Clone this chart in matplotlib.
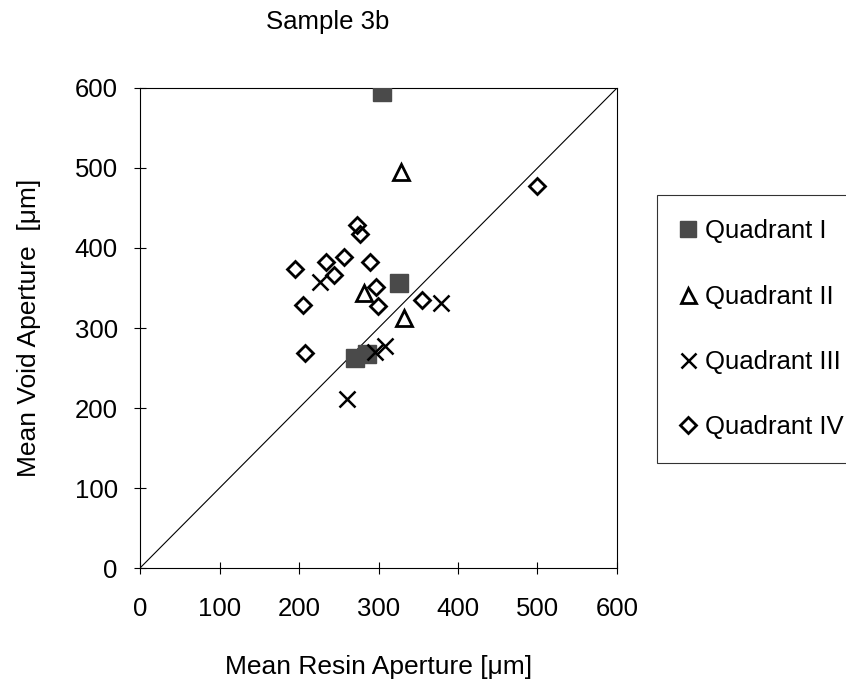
import matplotlib
matplotlib.use("Agg")
from matplotlib import pyplot as plt

plt.rcParams['font.family'] = ['Liberation Sans', 'DejaVu Sans']

# Quadrant I (filled squares)
q1_x = [305, 326, 270, 285]
q1_y = [595, 356, 263, 268]
# Quadrant II (triangles)
q2_x = [328, 282, 332]
q2_y = [495, 344, 312]
# Quadrant III (crosses)
q3_x = [226, 379, 308, 296, 260]
q3_y = [357, 331, 278, 270, 211]
# Quadrant IV (diamonds)
q4_x = [273, 277, 195, 234, 256, 289, 244, 297, 205, 299, 355, 208, 499]
q4_y = [429, 417, 374, 383, 389, 383, 366, 351, 329, 327, 335, 269, 478]

labels = ['Quadrant I', 'Quadrant II', 'Quadrant III', 'Quadrant IV']
ticks = [0, 100, 200, 300, 400, 500, 600]

FS = 18.5

fig = plt.figure(figsize=(8.46, 6.81), dpi=100)
ax = fig.add_axes([0.1655, 0.1659, 0.5638, 0.7049])

ax.plot([0, 600], [0, 600], color='black', lw=0.8, zorder=1)

h1, = ax.plot(q1_x, q1_y, ls='none', marker='s', ms=13, color='#4a4a4a',
              mec='#4a4a4a', label=labels[0], zorder=3)
h2, = ax.plot(q2_x, q2_y, ls='none', marker='^', ms=12, mfc='none',
              mec='black', mew=2, label=labels[1], zorder=3)
h3, = ax.plot(q3_x, q3_y, ls='none', marker='x', ms=12, color='black',
              mew=1.8, label=labels[2], zorder=3)
h4, = ax.plot(q4_x, q4_y, ls='none', marker='D', ms=8.5, mfc='none',
              mec='black', mew=2, label=labels[3], zorder=3)

ax.set_xlim(0, 600)
ax.set_ylim(0, 600)
ax.set_xticks(ticks)
ax.set_yticks(ticks)
ax.tick_params(labelsize=FS, direction='inout', length=8, width=0.8)
ax.tick_params(axis='x', pad=17)
ax.tick_params(axis='y', pad=12)
for s in ax.spines.values():
    s.set_linewidth(0.8)

ax.set_xlabel('Mean Resin Aperture [\u03bcm]', fontsize=19, labelpad=24)
ax.set_ylabel('Mean Void Aperture  [\u03bcm]', fontsize=19, labelpad=24)
fig.text(0.387, 0.968, 'Sample 3b', fontsize=FS, ha='center', va='center')

leg = fig.legend(handles=[h1, h2, h3, h4], labels=labels,
                 loc='upper left', bbox_to_anchor=(657 / 846, 1 - 195 / 681),
                 fontsize=FS, frameon=True, fancybox=False, markerscale=0.9,
                 handlelength=0.5, handletextpad=0.4, labelspacing=1.6,
                 borderpad=0.95, borderaxespad=0)
leg.get_frame().set_edgecolor('black')
leg.get_frame().set_linewidth(0.8)

plt.savefig('out.png', dpi=100)
